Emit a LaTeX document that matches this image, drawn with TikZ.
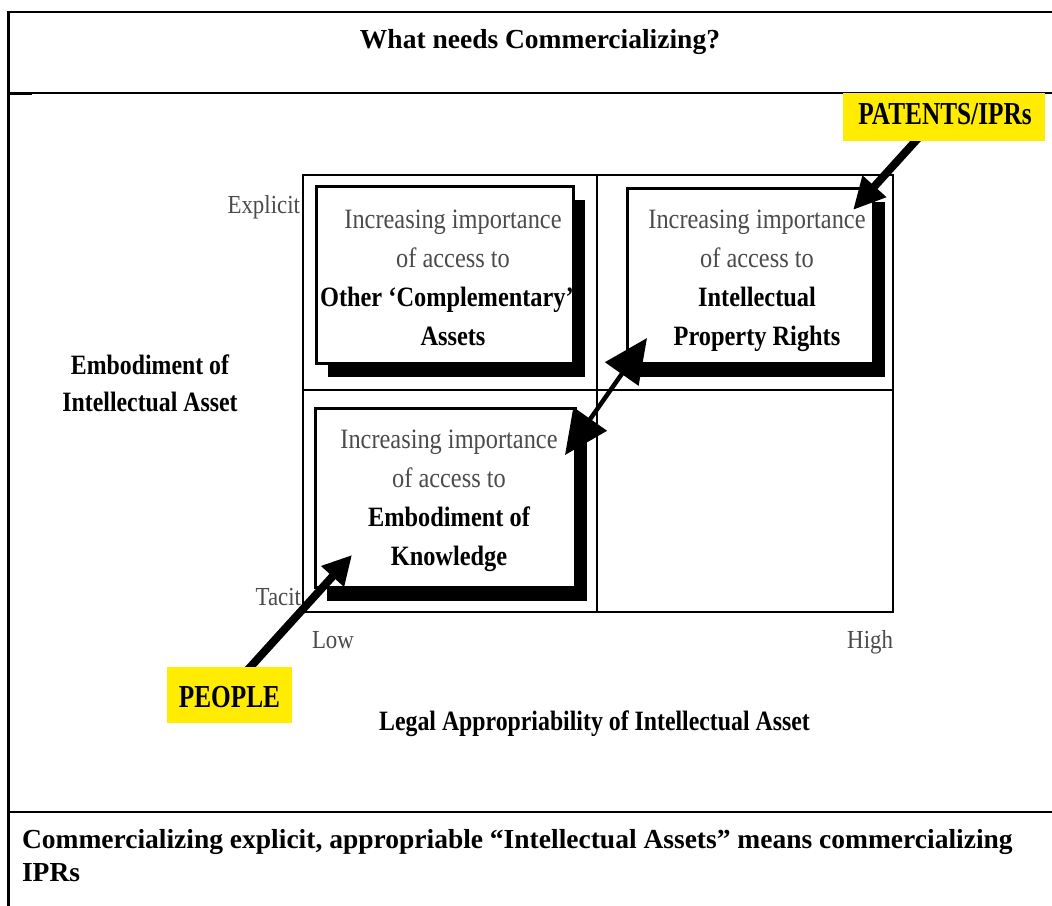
\documentclass[tikz,border=0pt]{standalone}
\usepackage{fontspec}
\setmainfont{Liberation Serif}
\usepackage{graphicx}
\usetikzlibrary{arrows.meta,shadows}
\definecolor{txtgray}{RGB}{75,75,75}
\definecolor{hiyellow}{RGB}{255,236,0}
\newcommand\cnd[2]{\scalebox{#1}[1]{#2}}
\newcommand\boxtext[2]{\cnd{0.87}{\fontsize{28bp}{39bp}\selectfont\begin{tabular}{@{}c@{}}\textcolor{txtgray}{Increasing importance}\\\textcolor{txtgray}{of access to}\\\bfseries #1\\\bfseries #2\end{tabular}}}
\begin{document}
\begin{tikzpicture}[x=1bp,y=-1bp]
\tikzset{
  tableline/.style={line width=2bp},
  gridline/.style={line width=2bp},
  qbox/.style={draw, line width=3bp, fill=white, inner sep=0pt, outer sep=0pt,
    drop shadow={shadow xshift=12bp, shadow yshift=-14bp, fill=black, opacity=1}},
  hilite/.style={fill=hiyellow, inner sep=0pt, outer sep=0pt},
  plain/.style={inner sep=0pt, outer sep=0pt},
  axislab/.style={plain, text=txtgray},
  fatarrow/.style={line width=8bp},
}
\useasboundingbox (0,0) rectangle (1052,906);
\fill[white] (0,0) rectangle (1052,906);

% table frame
\draw[tableline] (8,12) -- (1052,12);
\draw[line width=2.5bp] (8.5,11) -- (8.5,906);
\draw[line width=1.5bp] (8,93) -- (1052,93);
\draw[line width=2.5bp] (8,94) -- (32,94);
\draw[line width=2.5bp] (8,812) -- (1052,812);

% title and caption
\node[plain, anchor=base] (title) at (540,48) {\fontsize{27.5bp}{33bp}\selectfont\bfseries What needs Commercializing?};
\node[plain, anchor=base west] (cap1) at (22,848) {\fontsize{27.5bp}{33bp}\selectfont\bfseries Commercializing explicit, appropriable “Intellectual Assets” means commercializing};
\node[plain, anchor=base west] (cap2) at (22,881) {\fontsize{27.5bp}{33bp}\selectfont\bfseries IPRs};

% grid
\draw[gridline] (303,175) rectangle (893,612);
\draw[gridline] (597,175) -- (597,612);
\draw[gridline] (303,390) -- (893,390);

% boxes
\node[qbox, minimum width=257bp, minimum height=177bp] (b1) at (444.5,274.5) {};
\node[qbox, minimum width=246bp, minimum height=175bp] (b2) at (750,275.5) {};
\node[qbox, minimum width=260bp, minimum height=179bp] (b3) at (445,497.5) {};
\node[plain] (t1) at (453,279) {\boxtext{Other ‘Complementary’\kern14bp}{Assets}};
\node[plain] (t2) at (757,279) {\boxtext{Intellectual}{Property Rights}};
\node[plain] (t3) at (449,499) {\boxtext{Embodiment of}{Knowledge}};

% axis labels
\node[axislab, anchor=base east] (explicit) at (300,213) {\cnd{0.88}{\fontsize{26bp}{31bp}\selectfont Explicit}};
\node[axislab, anchor=base east] (tacit) at (301,605) {\cnd{0.88}{\fontsize{26bp}{31bp}\selectfont Tacit}};
\node[axislab, anchor=base west] (low) at (312,648) {\cnd{0.88}{\fontsize{26bp}{31bp}\selectfont Low}};
\node[axislab, anchor=base east] (high) at (893,648) {\cnd{0.88}{\fontsize{26bp}{31bp}\selectfont High}};
\node[plain] (yaxis) at (150,386) {\cnd{0.85}{\fontsize{28bp}{37bp}\selectfont\bfseries\begin{tabular}{@{}c@{}}Embodiment of\\Intellectual Asset\end{tabular}}};
\node[plain, anchor=base] (xaxis) at (594.5,730) {\cnd{0.85}{\fontsize{28bp}{33bp}\selectfont\bfseries Legal Appropriability of Intellectual Asset}};

% arrows
\coordinate (patS) at (921,135);
\coordinate (patT) at (853,210);
\coordinate (pplS) at (244,674);
\coordinate (pplT) at (352,555);
\coordinate (dblA) at (565,455);
\coordinate (dblB) at (647,338);
\draw[fatarrow, -{Triangle[length=32bp,width=30bp]}] (patS) -- (patT);
\draw[fatarrow, -{Triangle[length=29bp,width=29bp]}] (pplS) -- (pplT);
\draw[line width=4.5bp, {Triangle[length=44bp,width=40bp]}-{Triangle[length=44bp,width=40bp]}] (dblA) -- (dblB);

% highlighted labels
\node[hilite, minimum width=202bp, minimum height=48bp] (patbox) at (944,117) {};
\node[plain, anchor=base] (pat) at (945,124) {\cnd{0.79}{\fontsize{32bp}{36bp}\selectfont\bfseries PATENTS/IPRs}};
\node[hilite, minimum width=125bp, minimum height=56bp] (pplbox) at (229.5,695) {};
\node[plain, anchor=base] (ppl) at (229.5,707) {\cnd{0.79}{\fontsize{32bp}{36bp}\selectfont\bfseries PEOPLE}};
\end{tikzpicture}
\end{document}
